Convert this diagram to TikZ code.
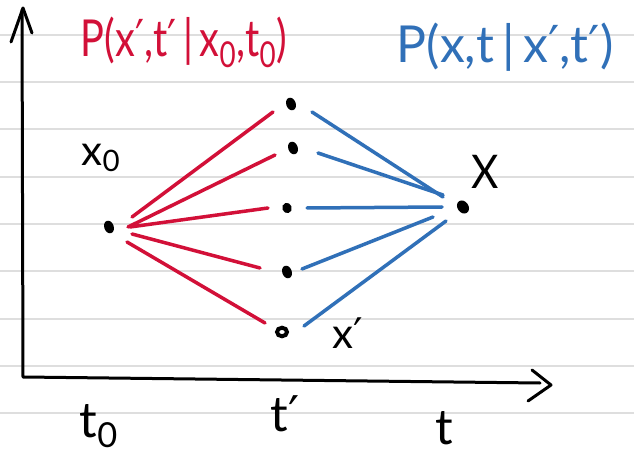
\documentclass[tikz,border=0pt]{standalone}
\usepackage{fontspec}
\setmainfont{Lato}
\newfontfamily\symfont{DejaVu Sans}
\usetikzlibrary{shapes.geometric}
\definecolor{penred}{RGB}{210,16,56}
\definecolor{penblue}{RGB}{48,112,184}
\definecolor{rulegray}{RGB}{222,222,222}
\newcommand{\pr}{{\symfont ′}}
\begin{document}
\begin{tikzpicture}[x=0.02cm,y=-0.02cm,
  axis/.style={line width=0.06cm, line cap=round, line join=round},
  redpen/.style={penred, line width=0.07cm, line cap=round},
  bluepen/.style={penblue, line width=0.07cm, line cap=round},
  dot/.style={ellipse, fill=black, inner sep=0pt, minimum width=0.19cm, minimum height=0.26cm, rotate=20},
  ringdot/.style={ellipse, draw=black, line width=0.08cm, fill=white, inner sep=0pt, minimum width=0.2cm, minimum height=0.17cm},
  lbl/.style={inner sep=0pt, font=\fontsize{24pt}{28pt}\selectfont},
  title/.style={inner sep=0pt, font=\fontsize{29pt}{34pt}\selectfont},
  tlbl/.style={inner sep=0pt, font=\fontsize{28pt}{32pt}\selectfont}
]
\useasboundingbox (0,0) rectangle (634,455);
\fill[white] (0,0) rectangle (634,455);
\foreach \y in {35,82,129,177,224,271,319,366,413}
  \draw[rulegray, line width=0.03cm] (0,\y) -- (634,\y);

% axes
\draw[axis] (22,10) -- (23,377) -- (540,383);
\draw[axis] (11,42) -- (23,8) -- (32,33);
\draw[axis] (532,370) -- (551,385) -- (528,401);

% dots
\node[dot] (x0) at (109,227) {};
\node[dot] (d1) at (291,104) {};
\node[dot] (d2) at (293,148) {};
\node[dot, minimum height=0.21cm] (d3) at (287,208) {};
\node[dot] (d4) at (287,272) {};
\node[ringdot] (d5) at (282,332) {};
\node[dot, minimum width=0.22cm, minimum height=0.28cm, rotate=15] (x) at (463,207) {};

% red fan
\coordinate (r1a) at (132,217); \coordinate (r1b) at (273,112);
\coordinate (r2a) at (128,227); \coordinate (r2b) at (275,155);
\coordinate (r3a) at (130,227); \coordinate (r3b) at (268,208);
\coordinate (r4a) at (132,234); \coordinate (r4b) at (260,268);
\coordinate (r5a) at (127,242); \coordinate (r5b) at (265,323);
\draw[redpen] (r1a) -- (r1b);
\draw[redpen] (r2a) -- (r2b);
\draw[redpen] (r3a) -- (r3b);
\draw[redpen] (r4a) -- (r4b);
\draw[redpen] (r5a) -- (r5b);

% blue fan
\coordinate (b1a) at (312,112); \coordinate (b1b) at (443,197);
\coordinate (b2a) at (318,153); \coordinate (b2b) at (443,195);
\coordinate (b3a) at (307,208); \coordinate (b3b) at (442,207);
\coordinate (b4a) at (302,269); \coordinate (b4b) at (433,217);
\coordinate (b5a) at (304,326); \coordinate (b5b) at (446,221);
\draw[bluepen] (b1a) -- (b1b);
\draw[bluepen] (b2a) -- (b2b);
\draw[bluepen] (b3a) -- (b3b);
\draw[bluepen] (b4a) -- (b4b);
\draw[bluepen] (b5a) -- (b5b);

% titles
\node[title, text=penred] (pred) at (184,42) {\scalebox{0.78}[1]{P(x\pr,t\pr\,|\,x\textsubscript{0},t\textsubscript{0})}};
\node[title, text=penblue] (pblue) at (505,47) {\scalebox{0.98}[1]{P(x,t\,|\,x\pr,t\pr)}};

% point labels
\node[lbl] (lx0) at (101,158) {x\textsubscript{0}};
\node[lbl] (lx) at (485,172) {\scalebox{1}[1.1]{X}};
\node[lbl] (lxp) at (348,333) {x\pr};

% time labels
\node[tlbl] (t0) at (99,426) {t\textsubscript{0}};
\node[tlbl] (tp) at (285,414) {t\pr};
\node[tlbl] (tt) at (444,428) {t};
\end{tikzpicture}
\end{document}
